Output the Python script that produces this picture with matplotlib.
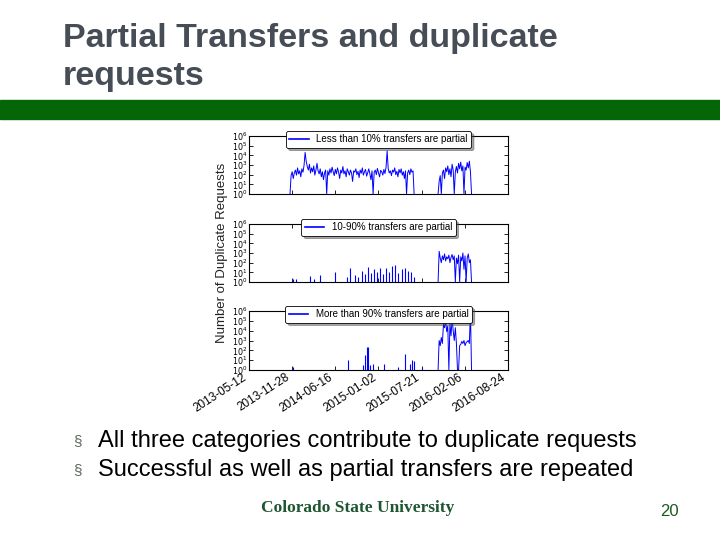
import numpy as np
import pandas as pd
import matplotlib
matplotlib.use("Agg")
import matplotlib.pyplot as plt
from matplotlib.patches import Rectangle

plt.rcParams['font.family'] = ['Liberation Sans', 'DejaVu Sans']

# Datos (número de peticiones duplicadas, escala log)
inicio = pd.Timestamp('2013-05-12')
fin = pd.Timestamp('2016-08-24')
ticks_x = pd.date_range(inicio, periods=7, freq='200D')

titulos = ['Less than 10% transfers are partial',
           '10-90% transfers are partial',
           'More than 90% transfers are partial']

# bloques continuos (días desde el inicio, paso de 5 días)
dia_a, dia_b, paso = 190, 876, 5
menos10_a = [1, 80, 200, 40, 150, 300, 90, 500, 120, 250,
             60, 400, 180, 900, 20000, 2500, 700, 300, 1200, 150,
             500, 200, 800, 90, 300, 1500, 250, 120, 400, 60,
             200, 30, 150, 300, 1, 250, 90, 400, 150, 600,
             200, 80, 350, 120, 500, 180, 40, 300, 150, 700,
             120, 250, 60, 400, 200, 90, 300, 150, 20, 250,
             180, 400, 100, 220, 50, 300, 140, 500, 90, 200,
             350, 70, 160, 400, 120, 30, 250, 1, 180, 300,
             100, 450, 150, 60, 280, 200, 90, 350, 130, 600,
             30000, 400, 150, 250, 80, 300, 180, 500, 100, 220,
             60, 350, 150, 400, 90, 200, 40, 250, 1, 150,
             300, 100, 400, 180, 250, 1]
menos10_b = [1, 20, 80, 1, 150, 300, 40, 500, 200, 800,
             100, 400, 60, 1200, 300, 1, 200, 700, 150, 1500,
             400, 2000, 250, 800, 1, 600, 300, 1800, 500, 2500, 200, 1]

medio_picos_dia = [204, 218, 283, 301, 329, 398, 454, 468, 491, 505, 523, 537,
                   551, 565, 579, 593, 607, 621, 635, 649, 663, 676, 690, 709,
                   723, 737, 751, 764]
medio_picos_val = [2, 2, 4, 2, 5, 10, 3, 30, 5, 3, 15, 6,
                   40, 8, 20, 10, 25, 6, 30, 12, 50, 60, 8, 20,
                   30, 15, 10, 3]
medio_b = [1, 1500, 300, 100, 500, 200, 800, 150, 400, 250,
           600, 100, 350, 700, 200, 500, 1, 300, 80, 600,
           1, 400, 150, 1000, 20, 500, 1, 300, 800, 100, 200, 1]

mas90_picos_dia = [204, 459, 528, 537, 547, 551, 560, 574, 625, 690, 723, 746, 755, 764, 801]
mas90_picos_val = [2, 10, 3, 30, 200, 200, 3, 4, 4, 2, 40, 4, 10, 8, 2]
mas90_b = [1, 1000, 300, 2000, 500, 50000, 20000, 100000, 8000, 30000,
           1, 50000, 3000, 200000, 10000, 1000, 20000, 500, 1, 1,
           300, 400, 800, 500, 1000, 300, 600, 800, 1000, 500, 1000000, 1]


def fechas(dia0, n):
    return inicio + pd.to_timedelta(dia0 + paso * np.arange(n), unit='D')


fig = plt.figure(figsize=(7.2, 5.4), dpi=100)

# título y barra verde
fig.text(0.0875, 1 - 47 / 540, 'Partial Transfers and duplicate', fontsize=24.5,
         fontweight='bold', color='#474d56', va='baseline')
fig.text(0.0875, 1 - 85 / 540, 'requests', fontsize=24.5,
         fontweight='bold', color='#474d56', va='baseline')
fig.patches.append(Rectangle((0, 1 - 119 / 540), 1, 19 / 540, transform=fig.transFigure,
                             color='#056607', zorder=0))

posiciones = [(249, 136, 194), (249, 224, 282), (249, 311, 370)]
ejes = []
for x0, ytop, ybot in posiciones:
    ax = fig.add_axes([x0 / 720, 1 - ybot / 540, 259 / 720, (ybot - ytop) / 540])
    ejes.append(ax)

ax1, ax2, ax3 = ejes
azul = '#0000ff'
ax1.plot(fechas(dia_a, len(menos10_a)), menos10_a, color=azul, lw=0.7, label=titulos[0])
ax1.plot(fechas(dia_b, len(menos10_b)), menos10_b, color=azul, lw=0.7)

ax2.vlines(inicio + pd.to_timedelta(medio_picos_dia, unit='D'), 1, medio_picos_val,
           color=azul, lw=0.8)
ax2.plot(fechas(dia_b, len(medio_b)), medio_b, color=azul, lw=0.7, label=titulos[1])

ax3.vlines(inicio + pd.to_timedelta(mas90_picos_dia, unit='D'), 1, mas90_picos_val,
           color=azul, lw=0.8)
ax3.plot(fechas(dia_b, len(mas90_b)), mas90_b, color=azul, lw=0.7, label=titulos[2])

for i, ax in enumerate(ejes):
    ax.set_yscale('log')
    ax.set_ylim(1, 1e6)
    ax.set_yticks([10.0 ** k for k in range(7)])
    ax.set_yticklabels([r'$10^{%d}$' % k for k in range(7)], fontsize=5.8)
    ax.yaxis.set_minor_locator(matplotlib.ticker.NullLocator())
    ax.set_xlim(inicio, fin)
    ax.set_xticks(ticks_x)
    ax.tick_params(direction='in', top=True, right=True, length=3, width=0.6, pad=1)
    for s in ax.spines.values():
        s.set_linewidth(0.8)
    leg = ax.legend(loc='upper center', bbox_to_anchor=(0.5, 1.17), fontsize=7,
                    fancybox=True, shadow=True, handlelength=2, borderpad=0.35,
                    framealpha=1)
    leg.get_frame().set_edgecolor('black')
    leg.get_frame().set_linewidth(0.6)
    for h in leg.get_lines():
        h.set_linewidth(1.2)
    if i < 2:
        ax.set_xticklabels([])
    else:
        ax.set_xticklabels([d.strftime('%Y-%m-%d') for d in ticks_x], rotation=33,
                           ha='right', fontsize=8.5)

fig.text(222 / 720, 1 - 253 / 540, 'Number of Duplicate Requests', rotation=90,
         fontsize=9.5, ha='center', va='center', color='#222222')

# viñetas
vinetas = ['All three categories contribute to duplicate requests',
           'Successful as well as partial transfers are repeated']
for k, txt in enumerate(vinetas):
    y = 1 - (441 + 29 * k) / 540
    fig.text(73 / 720, y, '§', fontsize=11, color='#5b6b5b', va='center')
    fig.text(98 / 720, y, txt, fontsize=17, color='#000000', va='center')

fig.text(358 / 720, 1 - 508 / 540, 'Colorado State University', fontsize=12.5,
         fontweight='bold', family=['Liberation Serif', 'DejaVu Serif'],
         color='#1e5631', ha='center', va='center')
fig.text(669 / 720, 1 - 511 / 540, '20', fontsize=12, color='#1a5c1a',
         ha='center', va='center')

fig.savefig('out.png', dpi=100)
